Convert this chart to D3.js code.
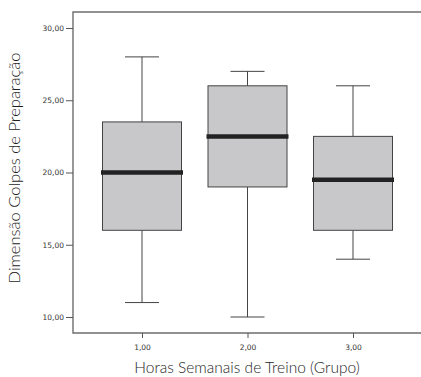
<!DOCTYPE html>
<html>
<head>
<meta charset="utf-8">
<script src="https://cdn.jsdelivr.net/npm/d3@7/dist/d3.min.js"></script>
<style>
  html, body { margin: 0; padding: 0; background: #fff; }
  svg { display: block; }
  svg text { -webkit-font-smoothing: antialiased; }
</style>
</head>
<body>
<svg id="chart" width="421" height="377"></svg>
<script>
// Grupos de horas semanais de treino
const groups = ["1,00", "2,00", "3,00"];
// Estatísticas de cada caixa: mínimo, Q1, mediana, Q3, máximo
const mins    = [11, 10, 14];
const q1s     = [16, 19, 16];
const medians = [20, 22.5, 19.5];
const q3s     = [23.5, 26, 22.5];
const maxs    = [28, 27, 26];
const yTicks  = [10, 15, 20, 25, 30];

const svg = d3.select("#chart");
const frame = { left: 73, top: 12, right: 421, bottom: 333 };

const x = d3.scalePoint()
  .domain(groups)
  .range([142, 353]);

const y = d3.scaleLinear()
  .domain([10, 30])
  .range([317, 28]);

const fmt = d => d.toFixed(2).replace(".", ",");
const font = "Lato, 'Open Sans', sans-serif";

// Caixas
const boxW = 79, capW = 34;
const data = groups.map((g, i) => ({
  g, min: mins[i], q1: q1s[i], med: medians[i], q3: q3s[i], max: maxs[i]
}));

const gBox = svg.append("g");
data.forEach(d => {
  const cx = x(d.g);
  // whiskers
  gBox.append("line").attr("x1", cx).attr("x2", cx)
    .attr("y1", y(d.max)).attr("y2", y(d.q3))
    .attr("stroke", "#444").attr("stroke-width", 1);
  gBox.append("line").attr("x1", cx).attr("x2", cx)
    .attr("y1", y(d.q1)).attr("y2", y(d.min))
    .attr("stroke", "#444").attr("stroke-width", 1);
  gBox.append("line").attr("x1", cx - capW / 2).attr("x2", cx + capW / 2)
    .attr("y1", y(d.max)).attr("y2", y(d.max))
    .attr("stroke", "#444").attr("stroke-width", 1);
  gBox.append("line").attr("x1", cx - capW / 2).attr("x2", cx + capW / 2)
    .attr("y1", y(d.min)).attr("y2", y(d.min))
    .attr("stroke", "#444").attr("stroke-width", 1);
  // box
  gBox.append("rect")
    .attr("x", cx - boxW / 2).attr("y", y(d.q3))
    .attr("width", boxW).attr("height", y(d.q1) - y(d.q3))
    .attr("fill", "#c8c8cb").attr("stroke", "#444").attr("stroke-width", 1);
  // median
  gBox.append("line")
    .attr("x1", cx - boxW / 2 - 1.5).attr("x2", cx + boxW / 2 + 1.5)
    .attr("y1", y(d.med)).attr("y2", y(d.med))
    .attr("stroke", "#222").attr("stroke-width", 4.5);
});

// Moldura (topo, esquerda, base)
svg.append("path")
  .attr("d", `M${frame.right},${frame.top}H${frame.left}V${frame.bottom}H${frame.right}`)
  .attr("fill", "none").attr("stroke", "#6e6e6e").attr("stroke-width", 1.4);

// Eixo Y
const yAxis = svg.append("g")
  .attr("transform", `translate(${frame.left},0)`)
  .call(d3.axisLeft(y).tickValues(yTicks).tickFormat(fmt).tickSize(7).tickPadding(2));
yAxis.select(".domain").remove();
yAxis.selectAll(".tick line").attr("stroke", "#555");
yAxis.selectAll(".tick text")
  .attr("font-family", "'DejaVu Sans', sans-serif").attr("font-size", 7.5).attr("fill", "#333");

// Eixo X
const xAxis = svg.append("g")
  .attr("transform", `translate(0,${frame.bottom})`)
  .call(d3.axisBottom(x).tickSize(5).tickPadding(7));
xAxis.select(".domain").remove();
xAxis.selectAll(".tick line").attr("stroke", "#555");
xAxis.selectAll(".tick text")
  .attr("font-family", "'DejaVu Sans', sans-serif").attr("font-size", 7.5).attr("fill", "#333");

// Títulos dos eixos
svg.append("text")
  .attr("x", 247).attr("y", 373)
  .attr("text-anchor", "middle")
  .attr("font-family", font).attr("font-weight", 300)
  .attr("font-size", 15.5).attr("fill", "#1e1e1e")
  .text("Horas Semanais de Treino (Grupo)");

svg.append("text")
  .attr("transform", "translate(20,168) rotate(-90)")
  .attr("text-anchor", "middle")
  .attr("font-family", font).attr("font-weight", 300)
  .attr("font-size", 16.5).attr("fill", "#1e1e1e")
  .text("Dimensão Golpes de Preparação");
</script>
</body>
</html>
